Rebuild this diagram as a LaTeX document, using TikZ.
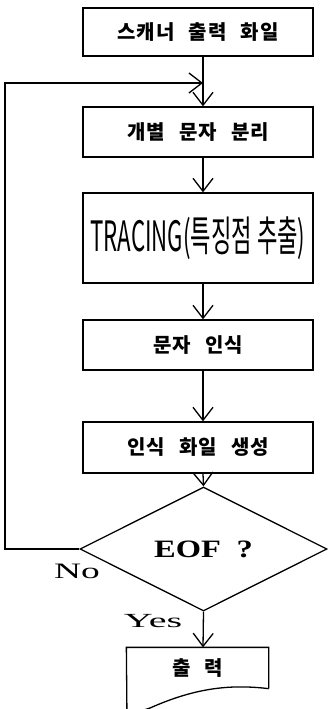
\documentclass[tikz,border=0pt]{standalone}
\usepackage{graphicx}
\usepackage{fontspec}
\setmainfont{Liberation Serif}
\newfontfamily\kr[LetterSpace=6]{Noto Sans CJK KR}
\newfontfamily\krn{Noto Sans CJK KR}
\newcommand\wsp{\hspace{14pt}}
\usetikzlibrary{arrows.meta,shapes.geometric}
\begin{document}
\begin{tikzpicture}[x=1pt,y=-1pt,line width=1.3pt,
  box/.style={draw,minimum width=230pt,inner sep=0pt,font=\kr\bfseries\fontsize{20}{20}\selectfont},
  arr/.style={-{Straight Barb[length=13pt,width=20pt]}}]
\useasboundingbox (0,0) rectangle (328,709);
\coordinate (ax) at (203,0);
\coordinate (fbl) at (5,83);
\coordinate (fbr) at (203,83);
\node[box,minimum height=48pt] (b1) at (198,32) {스캐너\wsp 출력\wsp 화일};
\node[box,minimum height=50pt] (b2) at (198,132) {개별\wsp 문자\wsp 분리};
\node[box,minimum height=90pt] (b3) at (198,238) {\resizebox*{215pt}{43pt}{\krn\mdseries TRACING(특징점 추출)}};
\node[box,minimum height=50pt] (b4) at (198,345) {문자\wsp 인식};
\node[box,minimum height=51pt] (b5) at (198,447.5) {인식\wsp 화일\wsp 생성};
\node[draw,diamond,aspect=2,minimum width=247pt,minimum height=124pt,inner sep=0pt] (d) at (203.5,549)
  {\scalebox{1.3}[1]{\fontsize{25}{25}\selectfont\bfseries EOF\hspace{12pt}?}};
\node (no) at (77,571) {\scalebox{1.7}[1]{\fontsize{22}{22}\selectfont No}};
\node (yes) at (153,621) {\scalebox{2}[1]{\fontsize{20}{20}\selectfont Yes}};
\node[minimum width=141pt,minimum height=40pt,inner sep=0pt,font=\kr\bfseries\fontsize{20}{20}\selectfont] (out) at (197.5,668) {출\wsp 력};
\draw (out.south east) -- (out.north east) -- (out.north west) -- (127,720);
\draw (out.south east) .. controls (230,684) and (195,688) .. (150,708) -- (120,718);
\draw[arr] (b1.south -| ax) -- (b2.north -| ax);
\draw[arr] (b2.south -| ax) -- (b3.north -| ax);
\draw[arr] (b3.south -| ax) -- (b4.north -| ax);
\draw[arr] (b4.south -| ax) -- (b5.north -| ax);
\draw[arr] (b5.south -| ax) -- (d.north);
\draw[arr] (d.south) -- (out.north -| ax);
\draw[arr] (d.west) -| (fbl) -- (fbr);
\end{tikzpicture}
\end{document}
